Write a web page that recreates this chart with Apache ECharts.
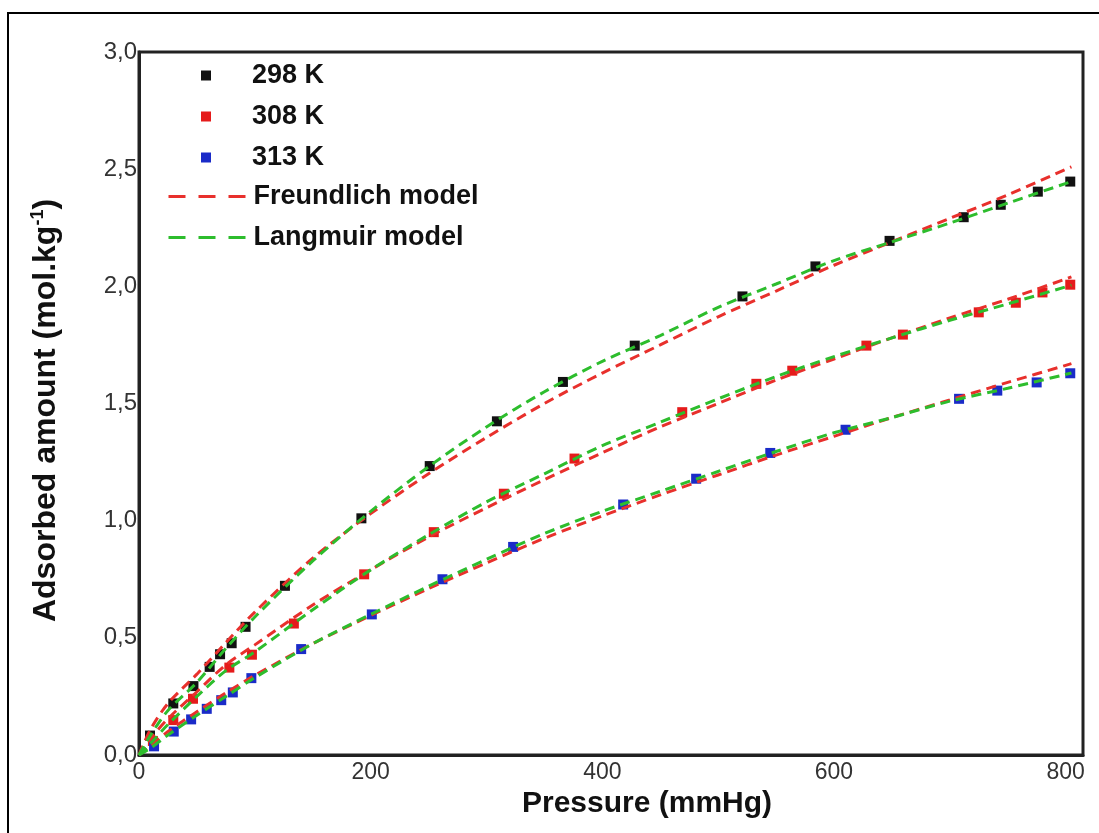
<!DOCTYPE html>
<html><head><meta charset="utf-8">
<script src="https://cdn.jsdelivr.net/npm/echarts@6/dist/echarts.min.js"></script>
<style>html,body{margin:0;padding:0;background:#fff}#c{width:1099px;height:833px}</style>
</head><body><div id="c"></div>
<script>
// Measured data (pressure in mmHg, adsorbed amount in mol/kg)
const pressure298 = [9.5, 29.6, 47, 61, 70, 80, 92, 126, 192, 251, 309, 366, 428, 521, 584, 648, 712, 744, 776, 804];
const amount298   = [0.083, 0.22, 0.294, 0.376, 0.43, 0.477, 0.547, 0.722, 1.01, 1.233, 1.424, 1.592, 1.747, 1.957, 2.085, 2.194, 2.295, 2.348, 2.404, 2.447];
const pressure308 = [12, 29.6, 46.6, 78, 97.5, 133.7, 194.4, 254.5, 315, 376, 469, 533, 564, 628, 659.5, 725, 757, 780, 804];
const amount308   = [0.06, 0.149, 0.24, 0.373, 0.428, 0.561, 0.771, 0.951, 1.115, 1.265, 1.463, 1.584, 1.64, 1.747, 1.794, 1.889, 1.93, 1.974, 2.007];
const pressure313 = [13, 30, 45, 58.5, 71, 81, 97, 140, 201, 262, 323, 418, 481, 545, 610, 708, 741, 775, 804];
const amount313   = [0.037, 0.1, 0.152, 0.197, 0.234, 0.267, 0.328, 0.452, 0.6, 0.75, 0.888, 1.069, 1.179, 1.289, 1.388, 1.52, 1.555, 1.59, 1.629];

// Model curves
const modelPressure  = [0, 10, 25, 50, 75, 100, 150, 200, 250, 300, 350, 400, 450, 500, 550, 600, 650, 700, 750, 805];
const freundlich298  = [0, 0.11, 0.22, 0.345, 0.48, 0.61, 0.84, 1.03, 1.2, 1.355, 1.5, 1.63, 1.75, 1.87, 1.98, 2.09, 2.19, 2.29, 2.39, 2.51];
const langmuir298    = [0, 0.085, 0.19, 0.31, 0.455, 0.589, 0.828, 1.04, 1.23, 1.4, 1.55, 1.68, 1.79, 1.91, 2.01, 2.11, 2.19, 2.27, 2.355, 2.447];
const freundlich308  = [0, 0.07, 0.155, 0.27, 0.385, 0.47, 0.64, 0.79, 0.93, 1.055, 1.175, 1.29, 1.4, 1.5, 1.6, 1.69, 1.78, 1.865, 1.945, 2.04];
const langmuir308    = [0, 0.05, 0.13, 0.25, 0.36, 0.44, 0.62, 0.79, 0.94, 1.08, 1.2, 1.32, 1.42, 1.52, 1.615, 1.7, 1.78, 1.855, 1.925, 2.005];
const freundlich313  = [0, 0.04, 0.1, 0.185, 0.265, 0.34, 0.475, 0.595, 0.71, 0.82, 0.925, 1.02, 1.11, 1.195, 1.28, 1.36, 1.44, 1.515, 1.59, 1.67];
const langmuir313    = [0, 0.03, 0.085, 0.17, 0.25, 0.33, 0.475, 0.6, 0.72, 0.835, 0.945, 1.04, 1.125, 1.21, 1.295, 1.375, 1.44, 1.51, 1.565, 1.63];

const seriesNames = ['298 K', '308 K', '313 K'];
const modelNames = ['Freundlich model', 'Langmuir model'];
const xTicks = [0, 200, 400, 600, 800];
const yTicks = ['0,0', '0,5', '1,0', '1,5', '2,0', '2,5', '3,0'];

const FONT = '"Liberation Sans", Arial, Helvetica, sans-serif';
const zip = (xs, ys) => xs.map((x, i) => [x, ys[i]]);
const markerColors = ['#111111', '#e51b1b', '#1a2bc8'];
const redLine = '#e8302c', greenLine = '#2dbd2d';

const scatterSeries = [
  zip(pressure298, amount298), zip(pressure308, amount308), zip(pressure313, amount313)
].map((d, i) => ({
  name: seriesNames[i], type: 'scatter', data: d, symbol: 'rect', symbolSize: 10,
  itemStyle: { color: markerColors[i], opacity: 1 }, z: 2
}));
const lineSeries = (name, ys, color, z) => ({
  name, type: 'line', data: zip(modelPressure, ys), smooth: 0.3, symbol: 'none', showSymbol: false,
  color, lineStyle: { color, width: 3, type: [10, 6] }, itemStyle: { color }, z
});

const option = {
  animation: false,
  backgroundColor: '#fff',
  grid: { left: 139, top: 52, right: 16, bottom: 78, show: true, borderColor: '#222', borderWidth: 3, containLabel: false },
  xAxis: {
    type: 'value', min: 0, max: 815, interval: 200,
    name: 'Pressure (mmHg)', nameLocation: 'middle', nameGap: 26,
    nameTextStyle: { fontFamily: FONT, fontSize: 30, fontWeight: 'bold', color: '#111', padding: [0, 0, 0, 72] },
    axisLine: { show: true, lineStyle: { color: '#222', width: 3 } },
    axisTick: { show: false }, splitLine: { show: false },
    axisLabel: { show: true, showMaxLabel: false, margin: 6, fontFamily: FONT, fontSize: 23, color: '#333',
      formatter: v => (xTicks.indexOf(v) >= 0 ? String(v) : '') }
  },
  yAxis: {
    type: 'value', min: 0, max: 3, interval: 0.5,
    name: 'Adsorbed amount (mol.kg{sup|-1})', nameLocation: 'middle', nameGap: 76, nameRotate: 90,
    nameTextStyle: { fontFamily: FONT, fontSize: 32, fontWeight: 'bold', color: '#111', padding: [0, 14, 0, 0],
      rich: { sup: { fontFamily: FONT, fontSize: 18, fontWeight: 'bold', color: '#111', verticalAlign: 'top', padding: [0, 0, 16, 0] } } },
    axisLine: { show: true, lineStyle: { color: '#222', width: 3 } },
    axisTick: { show: false }, splitLine: { show: false },
    axisLabel: { margin: 2, fontFamily: FONT, fontSize: 24, color: '#333',
      formatter: v => yTicks[Math.round(v / 0.5)] }
  },
  legend: [
    {
      data: seriesNames.map(n => ({ name: n, icon: 'rect' })), orient: 'vertical', left: 196, top: 57,
      itemWidth: 10, itemHeight: 10, itemGap: 14, selectedMode: false,
      textStyle: { fontFamily: FONT, fontSize: 27, fontWeight: 'bold', color: '#111', padding: [0, 0, 0, 36] }
    },
    {
      data: modelNames, orient: 'vertical', left: 162, top: 178,
      itemWidth: 77, itemHeight: 3, itemGap: 14, selectedMode: false,
      itemStyle: { opacity: 0 },
      lineStyle: { width: 3, type: [17, 13], opacity: 1 },
      textStyle: { fontFamily: FONT, fontSize: 27, fontWeight: 'bold', color: '#111', padding: [0, 0, 0, 3] }
    }
  ],
  graphic: [{
    type: 'rect', shape: { x: 8, y: 13, width: 1200, height: 900 }, silent: true,
    style: { fill: 'none', stroke: '#000', lineWidth: 2 }, z: 100
  }],
  series: [
    ...scatterSeries,
    lineSeries(modelNames[0], freundlich298, redLine, 3),
    lineSeries(modelNames[0], freundlich308, redLine, 3),
    lineSeries(modelNames[0], freundlich313, redLine, 3),
    lineSeries(modelNames[1], langmuir298, greenLine, 4),
    lineSeries(modelNames[1], langmuir308, greenLine, 4),
    lineSeries(modelNames[1], langmuir313, greenLine, 4)
  ]
};
const chart = echarts.init(document.getElementById('c'), null, { renderer: 'canvas' });
chart.setOption(option);
</script></body></html>
